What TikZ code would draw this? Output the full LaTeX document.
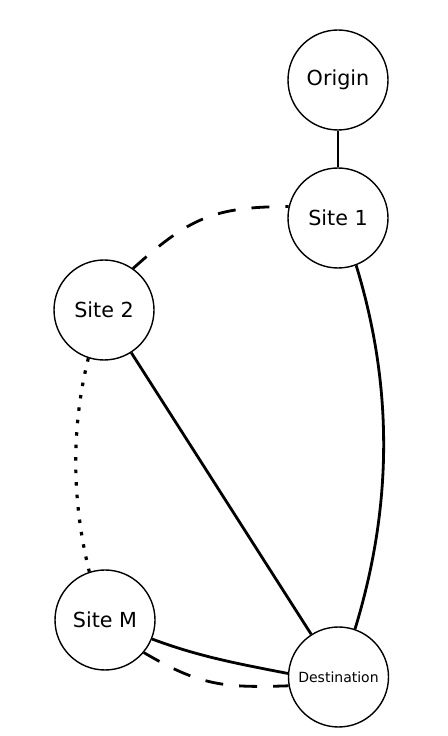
\documentclass[tikz,border=0pt]{standalone}
\usepackage{fontspec}
\setmainfont{DejaVu Sans}
\begin{document}
\begin{tikzpicture}[x=1pt,y=1pt,
  site/.style={circle,draw,line width=1.4pt,minimum size=100pt,inner sep=0pt,fill=white,font=\fontsize{20.7}{24}\selectfont},
  dest/.style={site,font=\fontsize{14}{16}\selectfont},
  link/.style={line width=2.8pt},
  dashlink/.style={link,dash pattern=on 18pt off 16pt},
  dotlink/.style={line width=3.2pt,dash pattern=on 3.5pt off 9pt}]
\useasboundingbox (0,0) rectangle (447,736);
\node[site] (o) at (338,656) {Origin};
\node[site] (s1) at (338,518) {Site 1};
\node[site] (s2) at (104,426) {Site 2};
\node[site] (sm) at (105,116) {Site M};
\node[dest] (d) at (338.5,59) {Destination};
\draw[link] (o) -- (s1);
\draw[link] (s2) -- (d);
\draw[link] (s1.-69) .. controls +(-73:128) and +(73:128) .. (d.71);
\draw[dashlink] (s2.55) .. controls +(42:75) and +(180:75) .. (s1.167);
\draw[dotlink] (s2.-108) .. controls +(-104:72) and +(104:72) .. (sm.108);
\draw[link] (sm.-22.6) .. controls +(-20.6:50) and +(169:50) .. (d.176);
\draw[dashlink] (sm.-40) .. controls +(-30.5:65) and +(182:65) .. (d.190.6);
\end{tikzpicture}
\end{document}
